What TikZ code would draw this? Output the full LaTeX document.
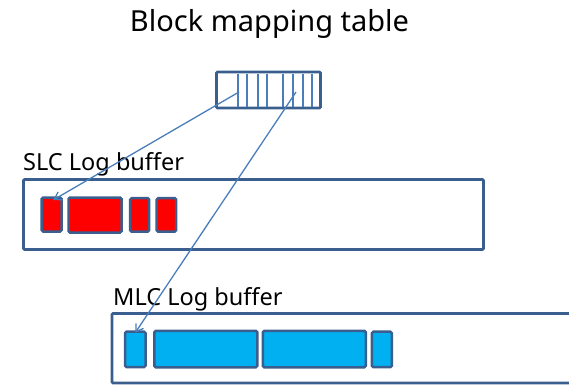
\documentclass[tikz,border=0pt]{standalone}
\usepackage{fontspec}
\setmainfont{Noto Sans}
\usetikzlibrary{arrows.meta}
\definecolor{edgeblue}{HTML}{3A5F8E}
\definecolor{linkblue}{HTML}{4A7EBB}
\definecolor{slotred}{HTML}{FF0000}
\definecolor{slotcyan}{HTML}{00B0F0}
\tikzset{
  box/.style={draw=edgeblue, line width=2.8pt, rounded corners=1pt, inner sep=0pt, outer sep=0pt, anchor=north west},
  slot/.style={draw=edgeblue, line width=2.5pt, rounded corners=1.5pt, inner sep=0pt, outer sep=0pt, anchor=north west},
  redslot/.style={slot, fill=slotred},
  cyanslot/.style={slot, fill=slotcyan},
  caption/.style={anchor=base west, inner sep=0pt, font=\fontsize{23.5}{26}\selectfont},
  link/.style={draw=linkblue, line width=1.3pt, -{Straight Barb[length=7pt,width=9pt]}},
}
\begin{document}
\begin{tikzpicture}[x=1pt,y=-1pt]
\useasboundingbox (0,0) rectangle (569,384);

% title
\node[anchor=base, inner sep=0pt, font=\fontsize{29}{33}\selectfont] (title) at (269.5,31.5) {Block mapping table};

% mapping table with its entry dividers
\node[box, minimum width=104pt, minimum height=36pt] (table) at (216.5,72) {};
\foreach \xx in {237.7,246.7,258.3,266.7,283.3,292.7,303.3,311.7}
  \draw[linkblue, line width=1.8pt] (\xx,73.5) -- (\xx,106.5);

% SLC log buffer
\node[caption] (slclabel) at (23,170) {SLC Log buffer};
\node[box, minimum width=460pt, minimum height=70pt] (slc) at (23.5,179.5) {};
\node[redslot, minimum width=20pt, minimum height=34pt] (r1) at (41.7,197.5) {};
\node[redslot, minimum width=53pt, minimum height=35pt] (r2) at (68.5,197.5) {};
\node[redslot, minimum width=19pt, minimum height=33.5pt] (r3) at (130.2,198.2) {};
\node[redslot, minimum width=19.5pt, minimum height=33.5pt] (r4) at (156.7,198.2) {};

% MLC log buffer
\node[caption] (mlclabel) at (113,305) {MLC Log buffer};
\node[box, minimum width=470pt, minimum height=69.5pt] (mlc) at (112,313.5) {};
\node[cyanslot, minimum width=20.5pt, minimum height=35.5pt] (b1) at (125,331.7) {};
\node[cyanslot, minimum width=103pt, minimum height=36.5pt] (b2) at (154.3,330.8) {};
\node[cyanslot, minimum width=103pt, minimum height=36.5pt] (b3) at (262.8,330.8) {};
\node[cyanslot, minimum width=20pt, minimum height=35.5pt] (b4) at (371.8,331.7) {};

% mapping entries pointing into the buffers
\coordinate (e1) at (239,92);
\coordinate (e2) at (296,92);
\draw[link] (e1) -- ([xshift=1.5pt,yshift=-2.5pt]r1.north);
\draw[link] (e2) -- ([yshift=-1pt]b1.north);
\end{tikzpicture}
\end{document}
